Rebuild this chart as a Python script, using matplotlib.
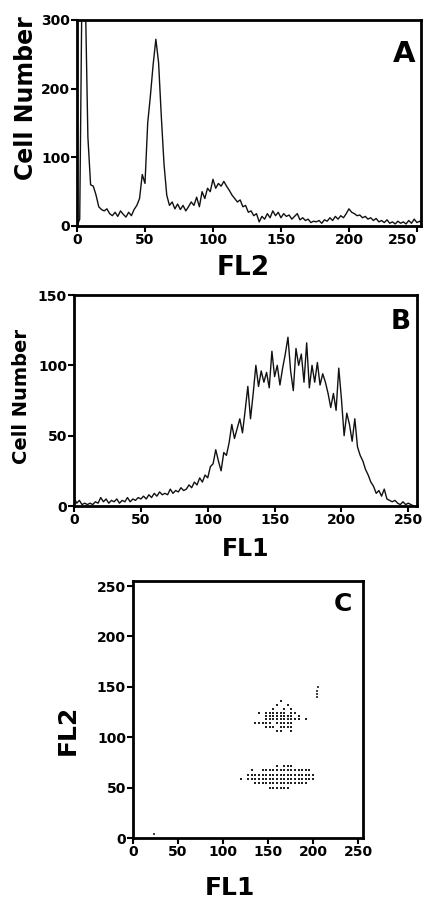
import numpy as np
import matplotlib
matplotlib.use("Agg")
import matplotlib.pyplot as plt

plt.rcParams['font.family'] = ['DejaVu Sans']
plt.rcParams['font.weight'] = 'bold'

# channel numbers (every 2nd channel of 256)
channels = np.arange(0, 256, 2)

# Panel A: DNA histogram, FL2
fl2_counts = [
    0, 10, 420, 350, 130, 60, 58, 45, 28, 24,
    22, 25, 18, 15, 20, 14, 22, 17, 13, 20,
    15, 24, 30, 40, 75, 62, 150, 190, 235, 272,
    238, 160, 90, 45, 30, 35, 25, 32, 24, 30,
    22, 28, 35, 30, 42, 28, 50, 40, 55, 50,
    68, 55, 62, 58, 65, 58, 52, 45, 40, 35,
    38, 28, 30, 20, 22, 15, 18, 6, 14, 10,
    18, 12, 22, 15, 20, 12, 18, 14, 16, 10,
    14, 18, 9, 12, 8, 10, 5, 7, 6, 8,
    4, 9, 7, 12, 8, 14, 10, 15, 12, 18,
    25, 20, 18, 15, 16, 12, 14, 10, 12, 8,
    11, 6, 8, 5, 9, 4, 6, 3, 7, 4,
    6, 3, 8, 4, 10, 5, 7, 3,
]

# Panel B: histogram, FL1
fl1_counts = [
    6, 2, 4, 1, 2, 1, 2, 1, 3, 2,
    6, 3, 5, 2, 4, 3, 5, 2, 4, 3,
    6, 3, 5, 4, 6, 5, 7, 5, 8, 6,
    9, 7, 10, 8, 9, 8, 12, 9, 11, 10,
    13, 11, 12, 15, 13, 17, 15, 20, 17, 22,
    20, 28, 30, 40, 32, 25, 38, 36, 45, 58,
    48, 55, 62, 52, 68, 85, 62, 80, 100, 85,
    96, 88, 95, 84, 110, 92, 100, 86, 98, 108,
    120, 96, 82, 112, 100, 108, 88, 116, 84, 100,
    88, 102, 86, 94, 88, 80, 70, 80, 68, 98,
    76, 50, 66, 58, 46, 62, 42, 36, 32, 26,
    22, 17, 14, 9, 11, 7, 12, 5, 4, 3,
    4, 2, 1, 3, 1, 2, 1, 0,
]

# Panel C: dot plot FL1 vs FL2, one string per FL2 row,
# each 'o' is an event at FL1 = 120 + 4 * column
dot_fl1_start = 120
dot_fl1_step = 4
dot_rows_fl2 = [71, 67, 63, 59, 55, 50,
                136, 132, 128, 124, 121, 118, 114, 110, 106]
dot_rows = [
    "          o ooo",
    "   o  oooooooooooooo",
    "  ooooooooooooooooooo",
    "o ooooooooooooooooooo",
    "    ooooooooooooooo",
    "        oooooo",
    "           o",
    "          o  o",
    "         o  o o",
    "     o oooooo oo",
    "       oooooooo o",
    "       oooooooooo o",
    "    ooooo ooooo",
    "       ooo oooo",
    "          oo  o",
]
# small streak and stray events
extra_fl1 = [204, 204, 204, 205, 23]
extra_fl2 = [140, 143, 146, 150, 4]

W, H = 427, 899
fig = plt.figure(figsize=(W / 100, H / 100), dpi=100)


def px_axes(left, top, right, bottom):
    return fig.add_axes([left / W, 1 - bottom / H, (right - left) / W, (bottom - top) / H])


def style(ax):
    for s in ax.spines.values():
        s.set_linewidth(2)
    ax.tick_params(direction='out', length=4, width=1.5, labelsize=10, pad=1)
    for lab in ax.get_xticklabels() + ax.get_yticklabels():
        lab.set_fontweight('bold')


# A
ax1 = px_axes(77, 20, 421, 226)
ax1.plot(channels, fl2_counts, color='#111111', lw=1.0)
ax1.set_xlim(0, 253)
ax1.set_ylim(0, 300)
ax1.set_xticks([0, 50, 100, 150, 200, 250])
ax1.set_yticks([0, 100, 200, 300])
style(ax1)
ax1.get_xticklabels()[-1].set_horizontalalignment('right')
ax1.get_xticklabels()[-1].set_x(252)
ax1.text(0.95, 0.835, 'A', transform=ax1.transAxes, fontsize=21,
         fontweight='bold', ha='center', va='center')
fig.text(26 / W, 1 - 98 / H, 'Cell Number', rotation=90, fontsize=17,
         fontweight='bold', ha='center', va='center')
fig.text(243 / W, 1 - 268 / H, 'FL2', fontsize=19, fontweight='bold',
         ha='center', va='center')

# B
ax2 = px_axes(74, 295, 417, 506)
ax2.plot(channels, fl1_counts, color='#111111', lw=1.0)
ax2.set_xlim(0, 256.5)
ax2.set_ylim(0, 150)
ax2.set_xticks([0, 50, 100, 150, 200, 250])
ax2.set_yticks([0, 50, 100, 150])
style(ax2)
ax2.text(0.953, 0.872, 'B', transform=ax2.transAxes, fontsize=19,
         fontweight='bold', ha='center', va='center')
fig.text(22 / W, 1 - 396 / H, 'Cell Number', rotation=90, fontsize=14,
         fontweight='bold', ha='center', va='center')
fig.text(246 / W, 1 - 549 / H, 'FL1', fontsize=17, fontweight='bold',
         ha='center', va='center')

# C
ax3 = px_axes(133, 581, 363, 838)
xs, ys = [], []
for fl2, row in zip(dot_rows_fl2, dot_rows):
    for i, ch in enumerate(row):
        if ch == 'o':
            xs.append(dot_fl1_start + dot_fl1_step * i)
            ys.append(fl2)
ax3.scatter(xs, ys, marker='s', s=3.2, color='#222222', linewidths=0)
ax3.scatter(extra_fl1, extra_fl2, marker='s', s=3.0, color='#444444', linewidths=0)
ax3.set_xlim(0, 255.5)
ax3.set_ylim(0, 255)
ax3.set_xticks([0, 50, 100, 150, 200, 250])
ax3.set_yticks([0, 50, 100, 150, 200, 250])
style(ax3)
ax3.text(0.913, 0.91, 'C', transform=ax3.transAxes, fontsize=18,
         fontweight='bold', ha='center', va='center')
fig.text(68 / W, 1 - 730 / H, 'FL2', rotation=90, fontsize=18,
         fontweight='bold', ha='center', va='center')
fig.text(230 / W, 1 - 888 / H, 'FL1', fontsize=18, fontweight='bold',
         ha='center', va='center')

fig.savefig('out.png', dpi=100)
